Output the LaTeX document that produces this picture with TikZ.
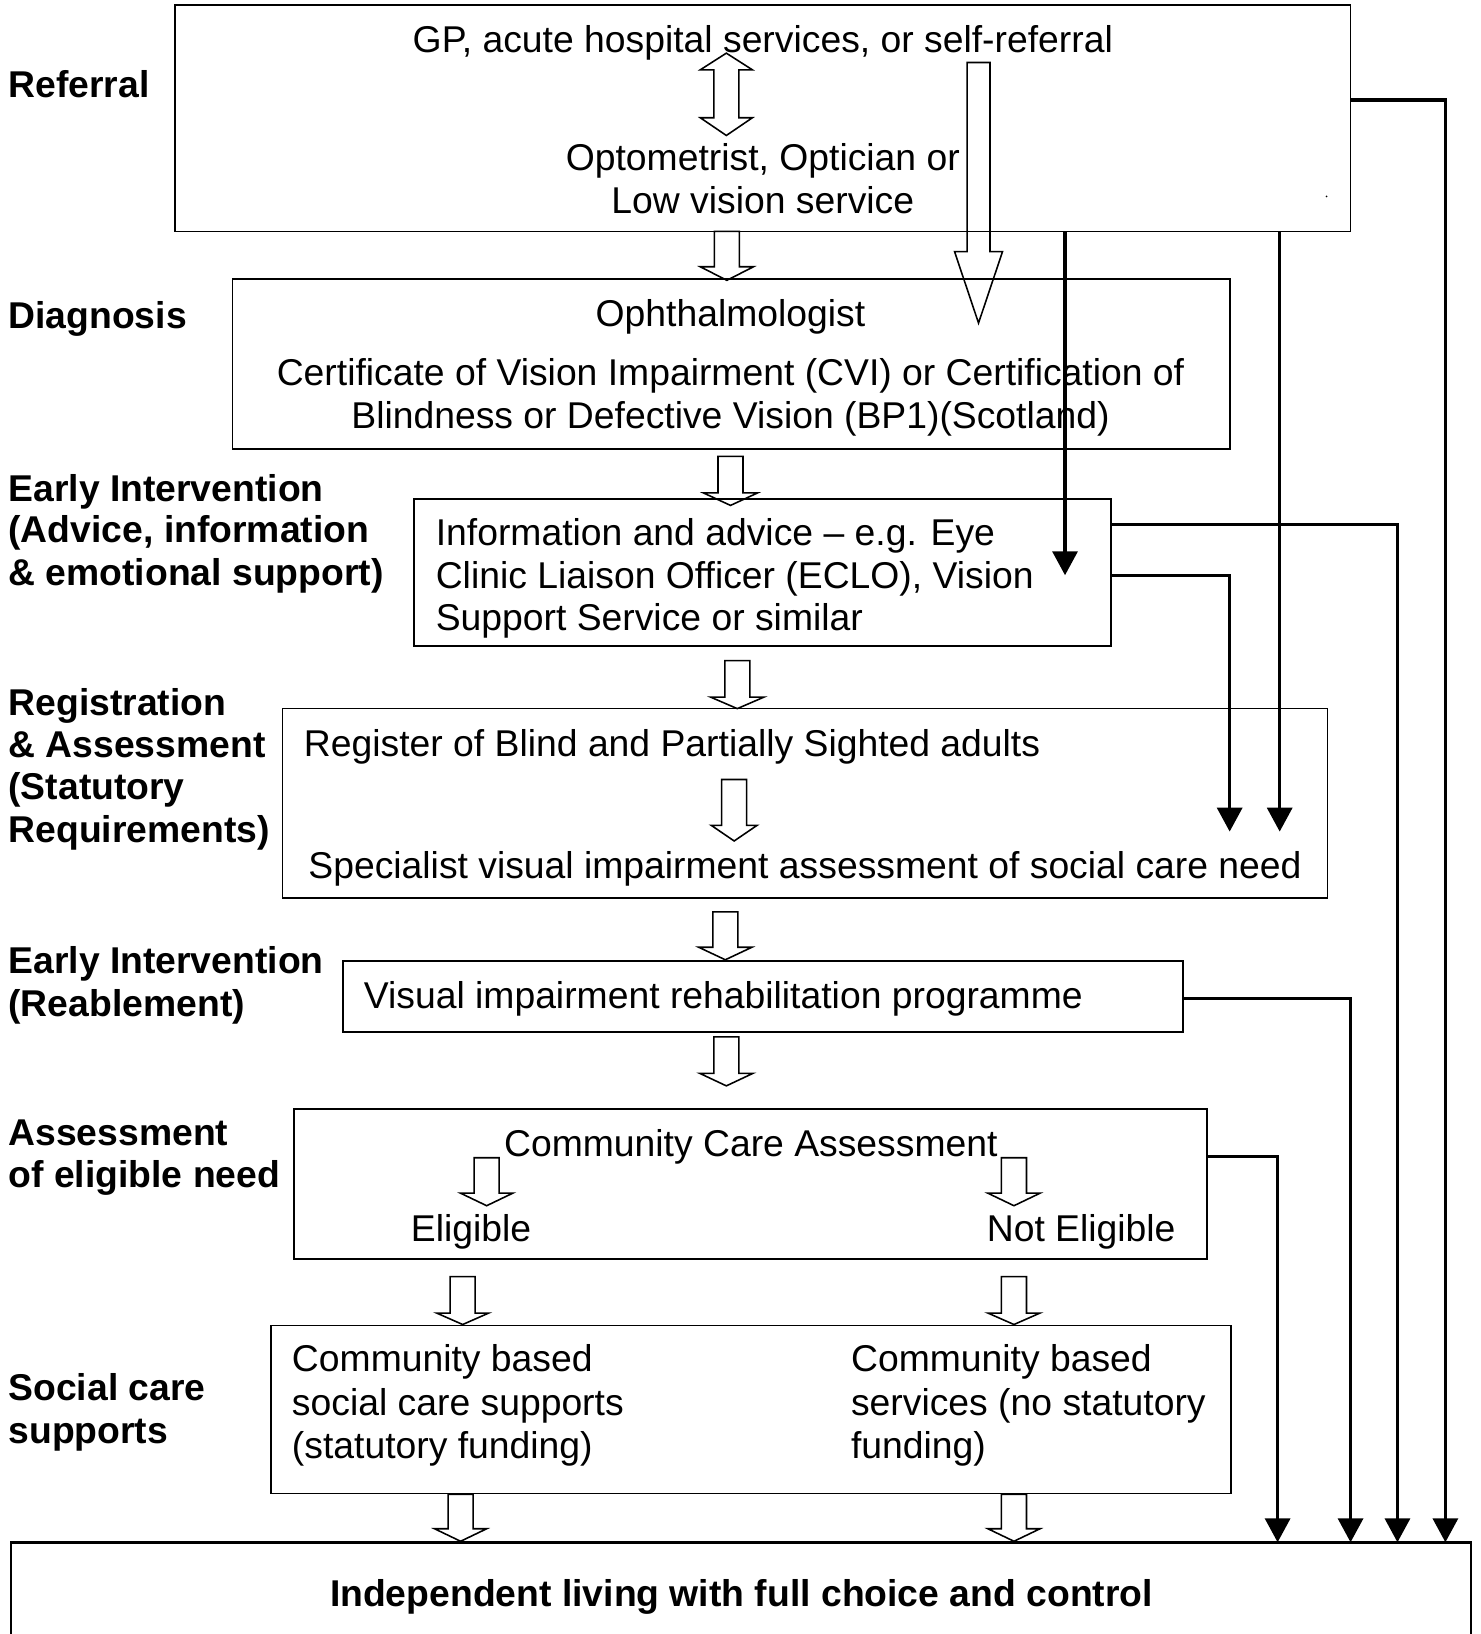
\documentclass[tikz,border=0pt]{standalone}
\usepackage{fontspec}
\setmainfont{Liberation Sans}
\usetikzlibrary{arrows.meta}
\newcommand{\hdown}[6]{% x, top, head start, tip, shaft half width, head half width
  \draw[hollow] ({#1-#5},#2) -- ({#1+#5},#2) -- ({#1+#5},#3) -- ({#1+#6},#3) -- (#1,#4)
    -- ({#1-#6},#3) -- ({#1-#5},#3) -- cycle;}
\begin{document}
\begin{tikzpicture}[x=1pt,y=-1pt,
  box/.style={draw, line width=1.6pt, inner sep=0pt, outer sep=0pt, anchor=north west},
  txt/.style={inner sep=0pt, font=\fontsize{35.8}{41}\selectfont},
  lbl/.style={inner sep=0pt, anchor=base west, font=\fontsize{35.8}{41}\selectfont\bfseries},
  conn/.style={line width=3.2pt, -{Triangle[length=23pt,width=24pt]}},
  hollow/.style={draw, line width=1.5pt, line join=miter}]
\clip (0,0) rectangle (1421,1568);
\fill[white] (0,0) rectangle (1421,1568);

% ---------- boxes ----------
\node[box, minimum width=1128pt, minimum height=217pt] (ref) at (168,5) {};
\node[box, minimum width=957pt, minimum height=163pt] (diag) at (223,268) {};
\node[box, minimum width=669pt, minimum height=141pt] (info) at (397,479) {};
\node[box, minimum width=1003pt, minimum height=182pt] (reg) at (271,680) {};
\node[box, minimum width=806pt, minimum height=68.5pt] (rehab) at (329,922) {};
\node[box, minimum width=876pt, minimum height=144pt] (cca) at (282,1064) {};
\node[box, minimum width=921pt, minimum height=161pt] (soc) at (260,1272) {};
\node[box, line width=2.4pt, minimum width=1401pt, minimum height=140pt] (indep) at (10.5,1480) {};

% ---------- left labels ----------
\node[lbl] (lref) at (8,94) {Referral};
\node[lbl] (ldiag) at (8,315) {Diagnosis};
\node[lbl] (lei1) at (8,481) {Early Intervention};
\node[lbl] (lei2) at (8,521) {(Advice, information};
\node[lbl] (lei3) at (8,562) {\& emotional support)};
\node[lbl] (lreg1) at (8,687) {Registration};
\node[lbl] (lreg2) at (8,727) {\& Assessment};
\node[lbl] (lreg3) at (8,767) {(Statutory};
\node[lbl] (lreg4) at (8,808) {Requirements)};
\node[lbl] (lrb1) at (8,934) {Early Intervention};
\node[lbl] (lrb2) at (8,975) {(Reablement)};
\node[lbl] (las1) at (8,1099) {Assessment};
\node[lbl] (las2) at (8,1140) {of eligible need};
\node[lbl] (lsc1) at (8,1344) {Social care};
\node[lbl] (lsc2) at (8,1385) {supports};

% ---------- box texts ----------
\node[txt, anchor=base] (t1) at (732,50) {GP, acute hospital services, or self-referral};
\node[txt, anchor=base] (t2) at (732,163.5) {Optometrist, Optician or};
\node[txt, anchor=base] (t3) at (732,205) {Low vision service};
\fill (1273,188.5) circle (0.9pt);

\node[txt, anchor=base] (t4) at (701,313) {Ophthalmologist};
\node[txt, anchor=base] (t5) at (701,370) {Certificate of Vision Impairment (CVI) or Certification of};
\node[txt, anchor=base] (t6) at (701,411) {Blindness or Defective Vision (BP1)(Scotland)};

\node[txt, anchor=base west] (t7) at (418,523.5) {Information and advice – e.g. Eye};
\node[txt, anchor=base west] (t8) at (418,564.5) {Clinic Liaison Officer (ECLO), Vision};
\node[txt, anchor=base west] (t9) at (418,605.5) {Support Service or similar};

\node[txt, anchor=base west] (t10) at (291.5,726) {Register of Blind and Partially Sighted adults};
\node[txt, anchor=base] (t11) at (772.5,843) {Specialist visual impairment assessment of social care need};

\node[txt, anchor=base west] (t12) at (349,968) {Visual impairment rehabilitation programme};

\node[txt, anchor=base] (t13) at (720.5,1110) {Community Care Assessment};
\node[txt, anchor=base] (t14) at (452,1191.5) {Eligible};
\node[txt, anchor=base] (t15) at (1037.5,1191.5) {Not Eligible};

\node[txt, anchor=base west] (t16) at (280,1316.5) {Community based};
\node[txt, anchor=base west] (t17) at (280,1358) {social care supports};
\node[txt, anchor=base west] (t18) at (280,1399.5) {(statutory funding)};
\node[txt, anchor=base west] (t19) at (816.5,1316.5) {Community based};
\node[txt, anchor=base west] (t20) at (816.5,1358) {services (no statutory};
\node[txt, anchor=base west] (t21) at (816.5,1399.5) {funding)};

\node[txt, anchor=base, font=\fontsize{35.8}{41}\selectfont\bfseries] (t22) at (711.5,1542) {Independent living with full choice and control};

% ---------- hollow arrows ----------
% double arrow inside referral box
\draw[hollow] (697,51) -- (722,67) -- (709,67) -- (709,113) -- (722,113) -- (697,130)
  -- (672,113) -- (685,113) -- (685,67) -- (672,67) -- cycle;
% long arrow from referral into diagnosis
\hdown{939}{60}{241.5}{310}{11}{23}
\hdown{697.5}{222}{256}{269}{12}{25.5}
\hdown{701}{438}{473}{485}{12}{26}
\hdown{707.5}{634}{669}{680}{12}{25.5}
\hdown{704.5}{748}{792}{807}{12}{22}
\hdown{696}{875}{909}{921}{12}{25.5}
\hdown{697}{995}{1030}{1042}{12}{25.5}
\hdown{467}{1111}{1145}{1157}{12}{25}
\hdown{973}{1111}{1145}{1157}{12}{25}
\hdown{444}{1225}{1260}{1271}{12}{25}
\hdown{973}{1225}{1260}{1271}{12}{25}
\hdown{442}{1434}{1467}{1479}{12}{25}
\hdown{973}{1434}{1467}{1479}{12}{25}

% ---------- black connectors ----------
\coordinate (tipA) at (1022,552);
\coordinate (tipB) at (1228,798);
\coordinate (tipC) at (1180,798);
\draw[conn] (ref.east |- 0,96) -| (indep.north -| 1387,0);
\draw[conn] (ref.south -| 1022,0) -- (tipA);
\draw[conn] (ref.south -| 1228,0) -- (tipB);
\draw[conn] (info.east |- 0,503) -| (indep.north -| 1341,0);
\draw[conn] (info.east |- 0,552) -| (tipC);
\draw[conn] (rehab.east |- 0,958) -| (indep.north -| 1296,0);
\draw[conn] (cca.east |- 0,1110) -| (indep.north -| 1226,0);
\end{tikzpicture}
\end{document}
